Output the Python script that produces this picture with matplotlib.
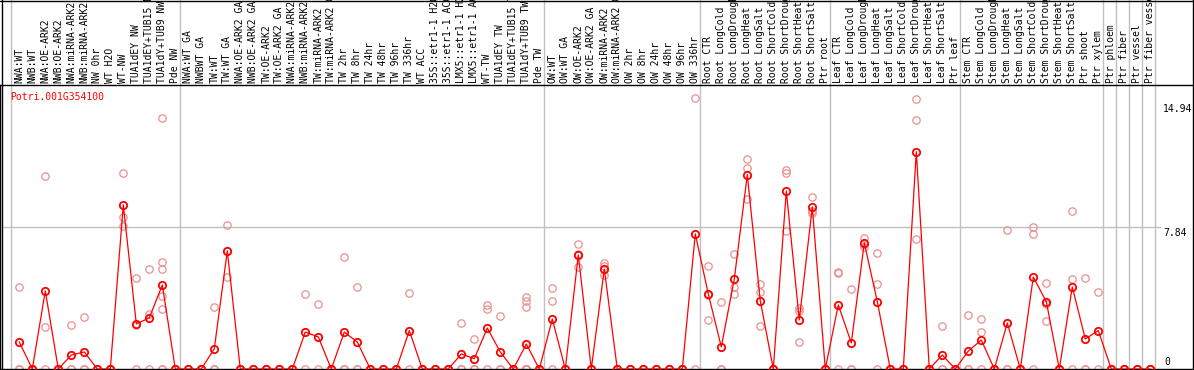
import matplotlib
matplotlib.use("Agg")
import matplotlib.pyplot as plt
from matplotlib.lines import Line2D
from matplotlib.transforms import blended_transform_factory

gene = "Potri.001G354100"

samples = [
    "NWA:WT", "NWB:WT", "NWA:OE-ARK2", "NWB:OE-ARK2", "NWA:miRNA-ARK2", "NWB:miRNA-ARK2",
    "NW 0hr", "WT H2O", "WT-NW", "TUA1dEY NW", "TUA1dEY+TUB15 NW", "TUA1dY+TUB9 NW", "Pde NW",
    "NWA:WT GA", "NWBWT GA", "TW:WT", "TW:WT GA", "NWA:OE-ARK2 GA", "NWB:OE-ARK2 GA",
    "TW:OE-ARK2", "TW:OE-ARK2 GA", "NWA:miRNA-ARK2 GA", "NWB:miRNA-ARK2 GA", "TW:miRNA-ARK2",
    "TW:miRNA-ARK2 GA", "TW 2hr", "TW 8hr", "TW 24hr", "TW 48hr", "TW 96hr", "TW 336hr",
    "WT ACC", "35S::etr1-1 H2O", "35S::etr1-1 ACC", "LMX5::etr1-1 H2O", "LMX5::etr1-1 ACC",
    "WT-TW", "TUA1dEY TW", "TUA1dEY+TUB15 TW", "TUA1dY+TUB9 TW", "Pde TW",
    "OW:WT", "OW:WT GA", "OW:OE-ARK2", "OW:OE-ARK2 GA", "OW:miRNA-ARK2", "OW:miRNA-ARK2 GA",
    "OW 2hr", "OW 8hr", "OW 24hr", "OW 48hr", "OW 96hr", "OW 336hr",
    "Root CTR", "Root LongCold", "Root LongDrought", "Root LongHeat", "Root LongSalt",
    "Root ShortCold", "Root ShortDrought", "Root ShortHeat", "Root ShortSalt", "Ptr root",
    "Leaf CTR", "Leaf LongCold", "Leaf LongDrought", "Leaf LongHeat", "Leaf LongSalt",
    "Leaf ShortCold", "Leaf ShortDrought", "Leaf ShortHeat", "Leaf ShortSalt", "Ptr leaf",
    "Stem CTR", "Stem LongCold", "Stem LongDrought", "Stem LongHeat", "Stem LongSalt",
    "Stem ShortCold", "Stem ShortDrought", "Stem ShortHeat", "Stem ShortSalt",
    "Ptr shoot", "Ptr xylem", "Ptr phloem", "Ptr fiber", "Ptr vessel", "Ptr fiber vessel",
]

# index of the first sample of each block (plus the end)
group_starts = [0, 13, 41, 53, 63, 73, 84, 85, 86, 87, 88]

means = [
    1.49, 0, 4.31, 0, 0.77, 0.94, 0, 0, 9.06, 2.49, 2.82, 4.64, 0,
    0, 0, 1.12, 6.52, 0, 0, 0, 0, 0, 2.04, 1.77, 0, 2.04, 1.49, 0, 0, 0,
    2.12, 0, 0, 0, 0.83, 0.57, 2.26, 0.94, 0, 1.38, 0,
    2.76, 0, 6.30, 0, 5.52, 0, 0, 0, 0, 0, 0, 7.46,
    4.14, 1.22, 4.97, 10.73, 3.76, 0, 9.83, 2.71, 8.95, 0,
    3.54, 1.44, 6.96, 3.72, 0, 0, 12.0, 0, 0.77, 0,
    0.99, 1.60, 0, 2.54, 0, 5.08, 3.72, 0, 4.53, 1.66, 2.12, 0, 0, 0, 0,
]

replicates = [
    [4.53, 0, 0], [0, 0, 0], [10.66, 2.32, 0], [0, 0, 0], [2.43, 0, 0], [2.87, 0, 0],
    [0, 0, 0], [0, 0, 0], [10.83, 8.40, 7.90], [5.03, 2.44, 0], [5.52, 3.04, 0],
    [13.87, 5.91, 5.52, 4.03, 3.31, 0, 0], [0, 0, 0],
    [0, 0, 0], [0, 0, 0], [3.43, 0, 0], [7.96, 6.52, 5.08], [0, 0, 0], [0, 0, 0],
    [0, 0, 0], [0, 0, 0], [0, 0, 0], [4.14, 0], [3.59, 0], [0, 0, 0], [6.19, 0, 0],
    [4.53, 0, 0], [0, 0, 0], [0, 0, 0], [0, 0, 0], [4.20, 0], [0, 0, 0], [0, 0, 0],
    [0, 0, 0], [2.56, 0, 0], [1.66, 0, 0], [3.54, 3.31, 0], [2.93, 0, 0], [0, 0, 0],
    [3.98, 3.76, 3.43, 0, 0, 0, 0, 0], [0, 0, 0],
    [4.47, 3.76, 0], [0, 0, 0], [6.91, 6.35, 5.64], [0, 0, 0], [5.83, 5.69, 5.19],
    [0, 0, 0], [0, 0, 0], [0, 0, 0], [0, 0, 0], [0, 0, 0], [0, 0, 0], [14.94, 0],
    [5.69, 4.09, 2.71], [3.70, 0, 0], [6.35, 4.53, 4.14], [11.60, 11.07, 9.39],
    [4.70, 4.25, 2.38], [0, 0, 0], [10.99, 10.83, 7.62], [3.37, 3.20, 1.49],
    [9.50, 8.73, 8.62], [0, 0, 0],
    [5.36, 5.30, 0], [4.42, 0, 0], [7.24, 6.91, 6.73], [6.41, 4.70, 0], [0, 0, 0],
    [0, 0, 0], [14.88, 13.76, 7.18], [0, 0, 0], [2.38, 0, 0], [0, 0, 0],
    [2.98, 0, 0], [2.76, 2.04, 0], [0, 0, 0], [7.68, 0, 0], [0, 0, 0], [7.85, 7.46, 0],
    [4.75, 3.59, 2.65], [0, 0, 0], [8.73, 4.97, 0], [5.03, 0, 0], [4.25, 0],
    [0, 0, 0], [0, 0, 0], [0, 0, 0], [0, 0, 0],
]

y_max_label = 14.94
y_mid = 7.84

W, H = 1194, 370
fig = plt.figure(figsize=(W / 100, H / 100), dpi=100)
plt.rcParams["font.family"] = "DejaVu Sans Mono"

# plot area: 85 px below the top, full width
ax = fig.add_axes([0, 1 / H, 1, 284 / H])
x = list(range(len(samples)))
# sample i sits at pixel 19.3 + 13*i
ax.set_xlim(-19.3 / 13, (W - 19.3) / 13)
ax.set_ylim(0, 2 * y_mid)
ax.set_xticks([])
ax.set_yticks([])
for s in ax.spines.values():
    s.set_color("black")
    s.set_linewidth(1)

grey = "#c0c0c0"
top_frac = (284 + 85) / 284
for g in group_starts:
    ax.axvline(g - 0.615, ymin=0, ymax=top_frac, color=grey, lw=1, clip_on=False, zorder=1)
ax.hlines(y_mid, -19.3 / 13, 87.8, color=grey, lw=1, zorder=1)

for i, reps in enumerate(replicates):
    ax.plot([i] * len(reps), reps, "o", ms=5.3, mfc="none", mec="#e89090", mew=0.9, zorder=2)

ax.plot(x, means, "-", color="red", lw=0.9, zorder=3)
ax.plot(x, means, "o", ms=5.3, mfc="none", mec="red", mew=1.3, zorder=4)

# header with rotated sample names
trans = blended_transform_factory(ax.transData, fig.transFigure)
for i, name in enumerate(samples):
    ax.text(i, 1 - 83 / H, name, transform=trans, rotation=90, ha="center", va="bottom",
            fontsize=7, clip_on=False)

# outer frame
fig.add_artist(Line2D([0, 1], [1 - 0.5 / H] * 2, transform=fig.transFigure, color="black", lw=1))
fig.add_artist(Line2D([1.5 / W] * 2, [0, 1], transform=fig.transFigure, color="black", lw=1))
fig.add_artist(Line2D([1 - 1.5 / W] * 2, [0, 1], transform=fig.transFigure, color="black", lw=1))

fig.text(10 / W, 1 - 97 / H, gene, color="red", fontsize=7, va="center", ha="left")
fig.text(1163 / W, 1 - 109 / H, f"{y_max_label:.2f}", fontsize=7, va="center", ha="left")
fig.text(1163 / W, 1 - 233 / H, f"{y_mid:.2f}", fontsize=7, va="center", ha="left")
fig.text(1164 / W, 1 - 362 / H, "0", fontsize=7, va="center", ha="left")

fig.savefig("out.png", dpi=100)
